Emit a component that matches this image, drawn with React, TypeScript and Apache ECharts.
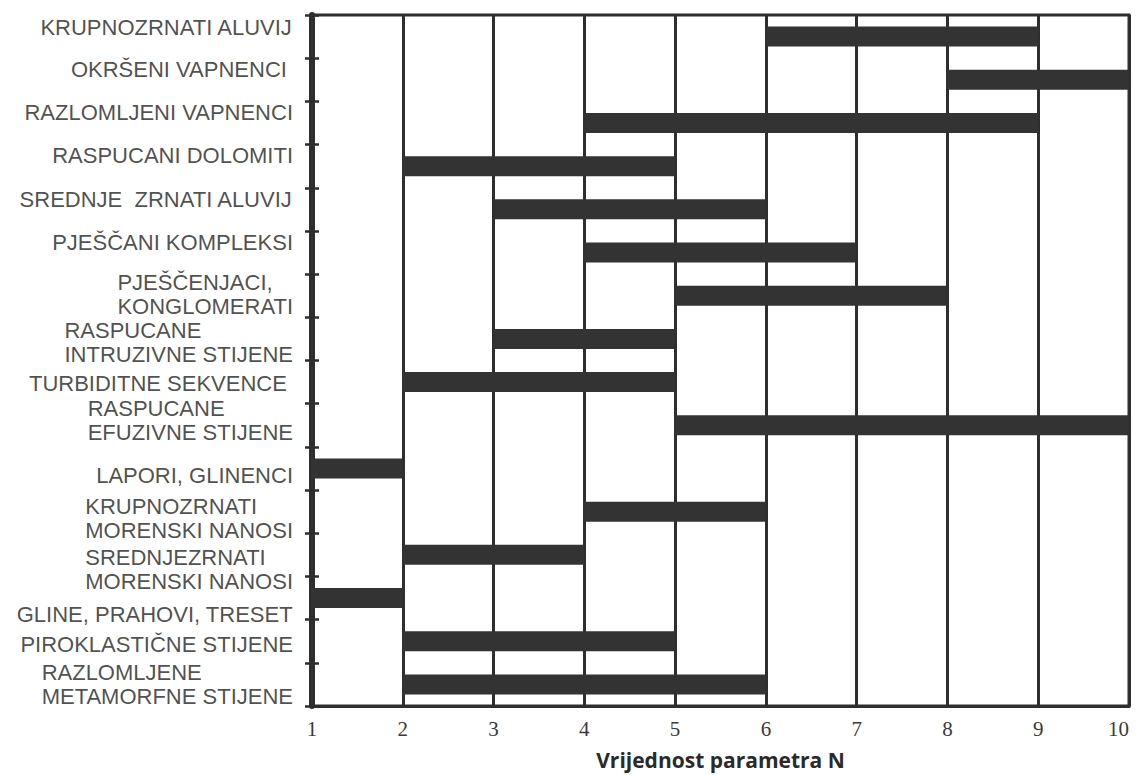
import React, { useEffect, useRef } from "react";
import * as echarts from "echarts";

const categories: string[] = [
  "KRUPNOZRNATI ALUVIJ",
  "OKRŠENI VAPNENCI ",
  "RAZLOMLJENI VAPNENCI",
  "RASPUCANI DOLOMITI",
  "SREDNJE  ZRNATI ALUVIJ",
  "PJEŠČANI KOMPLEKSI",
  "PJEŠČENJACI,\nKONGLOMERATI",
  "RASPUCANE\nINTRUZIVNE STIJENE",
  "TURBIDITNE SEKVENCE ",
  "RASPUCANE\nEFUZIVNE STIJENE",
  "LAPORI, GLINENCI",
  "KRUPNOZRNATI\nMORENSKI NANOSI",
  "SREDNJEZRNATI\nMORENSKI NANOSI",
  "GLINE, PRAHOVI, TRESET",
  "PIROKLASTIČNE STIJENE",
  "RAZLOMLJENE\nMETAMORFNE STIJENE",
];

const rangeStart: number[] = [6, 8, 4, 2, 3, 4, 5, 3, 2, 5, 1, 4, 2, 1, 2, 2];
const rangeEnd: number[] = [9, 10, 9, 5, 6, 7, 8, 5, 5, 10, 2, 6, 4, 2, 5, 6];

const xMin = 1;
const xMax = 10;
const xStep = 1;
const xAxisTitle = "Vrijednost parametra N";

// vertical nudge of each category label in px (styling only)
const labelShift: number[] = [-9, -10, -10, -11, -10, -10, -1, 4, 1, -5, 7, 7, 15, 16, 3, 0];

const INK = "#2e2e2e";
const LABEL_FONT = "'Liberation Sans', Arial, sans-serif";

const labelText = {
  fontFamily: LABEL_FONT,
  fontSize: 22,
  color: "#222222",
  lineHeight: 24,
};

function formatLabel(value: string): string {
  return value
    .split("\n")
    .map((ln) => "{l|" + ln + "}")
    .join("\n");
}

export default function App() {
  const ref = useRef<HTMLDivElement>(null);

  useEffect(() => {
    if (!ref.current) return;
    const chart = echarts.init(ref.current, undefined, { renderer: "svg" });
    const spans = rangeEnd.map((e, i) => e - rangeStart[i]);
    const labelPoints = categories.map((c, i) => ({
      value: [xMin, i],
      label: { offset: [0, labelShift[i]] },
    }));

    chart.setOption({
      animation: false,
      backgroundColor: "#ffffff",
      grid: {
        left: 312,
        right: 8,
        top: 15,
        bottom: 65,
        show: true,
        borderColor: INK,
        borderWidth: 3,
        backgroundColor: "transparent",
      },
      xAxis: {
        type: "value",
        min: xMin,
        max: xMax,
        interval: xStep,
        name: xAxisTitle,
        nameLocation: "middle",
        nameGap: 43,
        nameTextStyle: {
          fontFamily: "'Open Sans', sans-serif",
          fontWeight: "bold",
          fontSize: 21,
          color: "#2a2a2a",
        },
        axisLine: { show: true, onZero: false, lineStyle: { color: INK, width: 3 } },
        axisTick: { show: false },
        axisLabel: {
          fontFamily: "'Liberation Serif', 'Times New Roman', serif",
          fontSize: 21,
          color: "#3a3a3a",
          margin: 12,
          alignMaxLabel: "right",
        },
        splitLine: { show: true, lineStyle: { color: INK, width: 3 } },
      },
      yAxis: [
        {
          type: "category",
          data: categories,
          inverse: true,
          position: "left",
          axisLine: { show: true, lineStyle: { color: INK, width: 6 } },
          axisTick: { show: true, length: 7, lineStyle: { color: INK, width: 2.5 } },
          axisLabel: { show: false },
          splitLine: { show: false },
        },
        {
          type: "category",
          data: categories,
          inverse: true,
          position: "left",
          axisLine: { show: false },
          axisTick: { show: true, inside: true, length: 7, lineStyle: { color: INK, width: 2.5 } },
          axisLabel: { show: false },
          splitLine: { show: false },
        },
      ],
      series: [
        {
          type: "bar",
          stack: "range",
          yAxisIndex: 0,
          data: rangeStart,
          barWidth: 20,
          itemStyle: { color: "transparent" },
          silent: true,
        },
        {
          type: "bar",
          stack: "range",
          yAxisIndex: 0,
          data: spans,
          barWidth: 20,
          itemStyle: { color: "#333333" },
        },
        {
          type: "scatter",
          yAxisIndex: 0,
          data: labelPoints,
          symbolSize: 0,
          clip: false,
          silent: true,
          itemStyle: { color: "transparent" },
          label: {
            show: true,
            position: "left",
            distance: 19,
            formatter: (p: any) => formatLabel(categories[p.dataIndex]),
            ...labelText,
            rich: { l: { ...labelText, align: "left" } },
          },
          z: 10,
        },
      ],
    });

    return () => chart.dispose();
  }, []);

  return (
    <div
      ref={ref}
      style={{ position: "fixed", left: 0, top: 0, width: 1137, height: 775, background: "#fff" }}
    />
  );
}
